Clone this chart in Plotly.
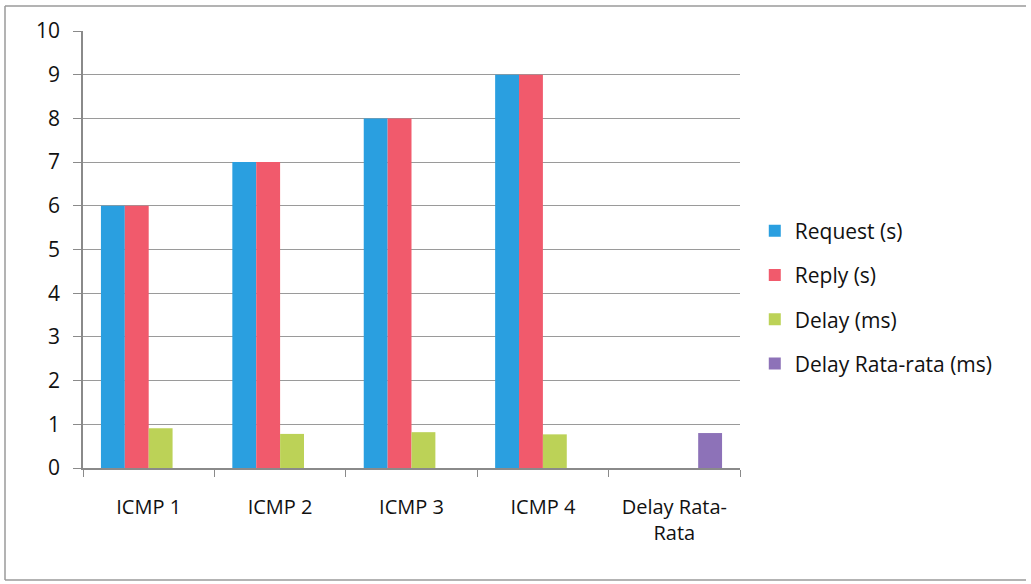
import plotly.graph_objects as go

# Categories and measured values
categories = ["ICMP 1", "ICMP 2", "ICMP 3", "ICMP 4", "Delay Rata-<br>Rata"]
request_s = [6, 7, 8, 9, None]
reply_s = [6, 7, 8, 9, None]
delay_ms = [0.91, 0.78, 0.82, 0.77, None]
avg_delay_ms = [None, None, None, None, 0.8]
y_ticks = list(range(0, 11))

series = [
    ("Request (s)", request_s, "#2A9FE0"),
    ("Reply (s)", reply_s, "#F15A6C"),
    ("Delay (ms)", delay_ms, "#BCD257"),
    ("Delay Rata-rata (ms)", avg_delay_ms, "#8D72B8"),
]

FONT = "Open Sans"
TXT = "#111111"

fig = go.Figure()
for i, (name, vals, color) in enumerate(series):
    fig.add_trace(go.Bar(
        x=categories, y=vals, name=name, marker_color=color,
        marker_line_width=0, legendgroup=f"g{i}",
    ))

# plot area geometry (pixels)
W, H = 1031, 584
L, R, T, B = 83, 740, 31, 468

fig.update_layout(
    width=W, height=H,
    margin=dict(l=L, r=W - R, t=T, b=H - B),
    paper_bgcolor="white", plot_bgcolor="white",
    barmode="group", bargap=0.273, bargroupgap=0,
    font=dict(family=FONT, size=21, color=TXT),
    legend=dict(
        x=1.0225, y=0.39, xanchor="left", yanchor="middle",
        font=dict(family=FONT, size=21, color=TXT),
        traceorder="grouped", tracegroupgap=14,
        itemwidth=30, bgcolor="rgba(0,0,0,0)",
    ),
    xaxis=dict(
        showline=True, linecolor="#8a8a8a", linewidth=1.5,
        ticks="outside", ticklen=7, tickcolor="#8a8a8a",
        tickson="boundaries", showgrid=False,
        ticklabelstandoff=20,
        tickfont=dict(family=FONT, size=20, color=TXT),
    ),
    yaxis=dict(
        range=[0, 10], tickvals=y_ticks,
        showline=True, linecolor="#8a8a8a", linewidth=1.5,
        ticks="outside", ticklen=8, tickcolor="#8a8a8a",
        showgrid=True, gridcolor="#9a9a9a", gridwidth=1.2,
        zeroline=False, ticklabelstandoff=9,
        tickfont=dict(family=FONT, size=21, color=TXT),
    ),
)

# outer chart frame (open on the right edge)
def px_x(px):
    return (px - L) / (R - L)

def px_y(py):
    return (B - py) / (B - T)

frame = dict(color="#9a9a9a", width=1.5)
fig.add_shape(type="line", xref="paper", yref="paper",
              x0=px_x(5), x1=px_x(1026), y0=px_y(6), y1=px_y(6), line=frame)
fig.add_shape(type="line", xref="paper", yref="paper",
              x0=px_x(5), x1=px_x(5), y0=px_y(6), y1=px_y(580), line=frame)
fig.add_shape(type="line", xref="paper", yref="paper",
              x0=px_x(5), x1=px_x(1026), y0=px_y(580), y1=px_y(580), line=frame)

fig.write_html("out.html")
